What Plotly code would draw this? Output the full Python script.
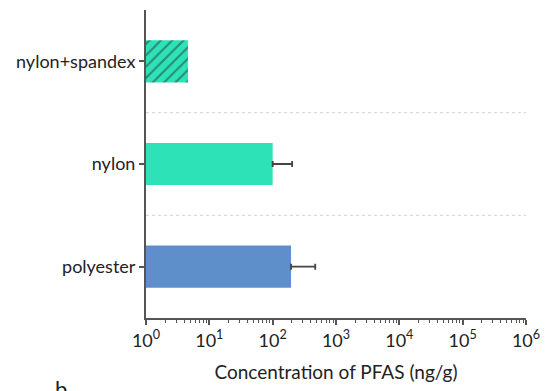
import plotly.graph_objects as go

# Fabric types, bottom to top
categories = ["polyester", "nylon", "nylon+spandex"]
# Mean PFAS concentration (ng/g) and upper error (None = no error bar)
concentration = [195, 100, 4.6]
error_upper = [275, 103, None]
colors = ["#5f8fcb", "#2de2b7", "#2de2b7"]
patterns = ["", "", "/"]

decade_exponents = [0, 1, 2, 3, 4, 5, 6]
tick_labels = [f"10<sup>{e}</sup>" for e in decade_exponents]

FONT = "Lato, 'Open Sans', sans-serif"
AXIS_COLOR = "#555555"
TEXT_COLOR = "#222222"

y_pos = list(range(len(categories)))

fig = go.Figure()
for i, cat in enumerate(categories):
    bar = dict(
        x=[concentration[i]],
        y=[y_pos[i]],
        orientation="h",
        width=0.41,
        name=cat,
        marker=dict(
            color=colors[i],
            line=dict(width=0),
            pattern=dict(
                shape=patterns[i],
                fgcolor="#26302e",
                bgcolor=colors[i],
                size=8,
                solidity=0.25,
            ),
        ),
        showlegend=False,
    )
    if error_upper[i] is not None:
        bar["error_x"] = dict(
            type="data",
            symmetric=False,
            array=[error_upper[i]],
            arrayminus=[0],
            color="#444444",
            thickness=1.8,
            width=3,
        )
    fig.add_trace(go.Bar(**bar))

# Dotted separators between categories
for sep in [0.5, 1.5]:
    fig.add_shape(
        type="line",
        xref="paper",
        yref="y",
        x0=0,
        x1=1,
        y0=sep,
        y1=sep,
        line=dict(color="#d2d2d2", width=1, dash="dot"),
        layer="below",
    )

fig.add_annotation(
    text="b",
    xref="paper",
    yref="paper",
    x=-0.245,
    y=-0.18,
    xanchor="left",
    yanchor="top",
    showarrow=False,
    font=dict(family=FONT, size=22, color=TEXT_COLOR),
)

fig.update_layout(
    width=550,
    height=391,
    margin=dict(l=145.5, r=21.5, t=10, b=73),
    plot_bgcolor="white",
    paper_bgcolor="white",
    barmode="overlay",
    font=dict(family=FONT, size=18, color=TEXT_COLOR),
    xaxis=dict(
        type="log",
        range=[0, 6],
        tickvals=[10**e for e in decade_exponents],
        ticktext=tick_labels,
        ticks="outside",
        ticklen=5,
        tickwidth=1.5,
        tickcolor=AXIS_COLOR,
        showline=True,
        linecolor=AXIS_COLOR,
        linewidth=2,
        showgrid=False,
        zeroline=False,
        tickfont=dict(family=FONT, size=18, color=TEXT_COLOR),
        minor=dict(ticks="outside", ticklen=3, tickcolor=AXIS_COLOR, tickwidth=1, dtick="D1", showgrid=False),
        title=dict(
            text="Concentration of PFAS (ng/g)",
            font=dict(family=FONT, size=19, color=TEXT_COLOR),
            standoff=16,
        ),
    ),
    yaxis=dict(
        range=[-0.5, 2.5],
        tickvals=y_pos,
        ticktext=categories,
        ticks="outside",
        ticklen=5,
        tickwidth=1.5,
        tickcolor=AXIS_COLOR,
        showline=True,
        linecolor=AXIS_COLOR,
        linewidth=2,
        showgrid=False,
        zeroline=False,
        tickfont=dict(family=FONT, size=18, color=TEXT_COLOR),
    ),
)

fig.write_html("out.html")
